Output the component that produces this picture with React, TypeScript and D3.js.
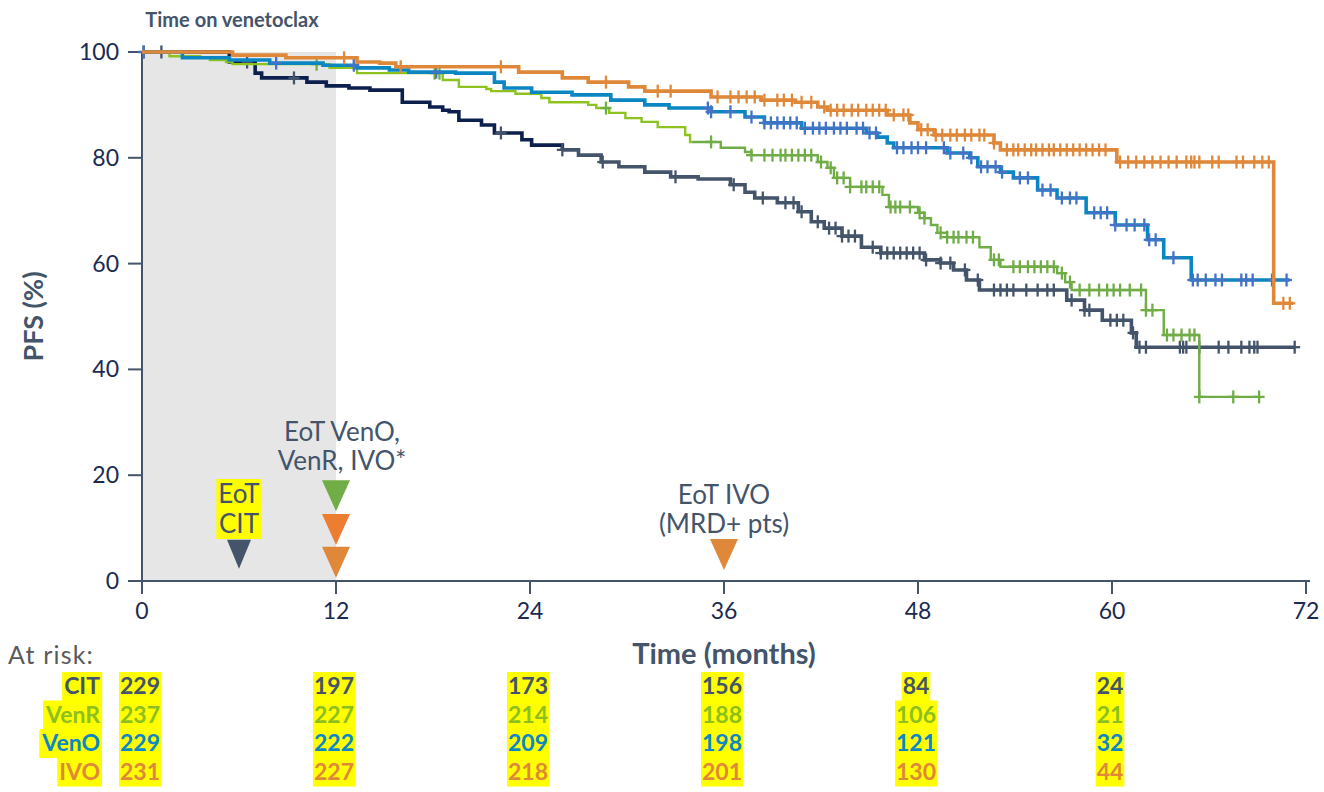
import { useEffect, useRef } from 'react';
import * as d3 from 'd3';

// Step points: [month, PFS %] — value after each event
const citSteps = [[0,100],[5.4,98.1],[7.0,96.0],[7.4,95.1],[10.2,94.3],[11.4,93.6],[12.8,93.2],[14.1,92.8],[16.1,90.5],[17.8,89.6],[18.6,89.0],[19.0,88.7],[19.6,87.1],[21.0,86.2],[21.8,84.7],[23.5,83.4],[24.1,82.4],[26.0,81.5],[27.0,80.5],[28.4,79.2],[29.5,78.3],[31.1,77.3],[32.7,76.4],[34.4,76.0],[36.4,74.9],[37.3,73.5],[37.9,72.4],[39.3,71.5],[40.6,69.8],[41.4,67.9],[42.2,66.7],[43.3,65.2],[44.5,63.1],[45.7,62.0],[48.4,60.7],[49.4,60.1],[50.2,58.8],[51.0,56.9],[51.8,55.0],[57.2,53.1],[58.3,51.2],[59.4,49.3],[61.2,46.9],[61.5,44.2]];
const venrSteps = [[0,100],[1.7,99.2],[3.6,98.9],[4.2,98.5],[5.2,98.1],[5.6,97.7],[11.6,97.0],[13.3,96.0],[18.6,94.7],[19.6,93.4],[21.3,93.0],[21.6,92.6],[23.1,92.1],[24.7,91.3],[25.2,90.5],[27.6,90.0],[28.1,89.4],[28.9,88.5],[29.9,87.5],[30.9,86.8],[31.9,85.8],[33.6,84.3],[33.9,83.0],[35.8,81.9],[37.3,81.1],[37.7,80.5],[41.8,79.2],[42.4,78.1],[42.8,76.2],[43.8,74.5],[45.8,73.0],[46.2,70.7],[48.0,69.6],[48.4,68.6],[48.8,67.3],[49.2,65.8],[49.8,65.0],[51.8,63.1],[52.5,60.7],[53.1,59.4],[56.6,58.2],[57.1,56.5],[57.5,55.0],[62.1,51.2],[63.2,46.5],[65.4,34.8]];
const venoSteps = [[0,100],[2.5,98.9],[5.4,98.5],[7.9,97.9],[11.2,97.5],[13.3,97.0],[15.3,96.6],[16.5,96.2],[19.4,96.0],[21.8,94.3],[22.4,93.2],[24.1,92.4],[26.6,91.9],[29.0,90.9],[31.1,90.0],[32.6,89.4],[35.2,88.7],[37.3,87.7],[38.5,86.6],[40.8,85.6],[44.8,84.7],[45.5,83.9],[46.1,82.8],[46.5,81.9],[49.8,80.9],[51.2,80.0],[51.7,78.3],[53.1,77.3],[53.9,76.2],[55.4,73.9],[56.6,72.4],[58.4,69.6],[60.2,67.3],[62.2,64.5],[63.2,61.1],[64.9,56.9]];
const ivoSteps = [[0,100],[5.6,99.4],[8.9,98.9],[13.3,98.1],[14.7,97.9],[15.7,97.2],[23.3,96.2],[26.0,95.1],[27.6,94.3],[30.1,93.4],[31.1,92.6],[35.2,91.5],[38.3,90.9],[40.4,90.5],[41.8,89.6],[42.4,89.0],[46.1,88.1],[47.5,86.6],[48.0,85.3],[49.0,84.3],[52.7,82.8],[53.1,81.5],[60.3,79.2],[70.0,52.5]];

// last follow-up per arm
const followUpEnd = { CIT: 71.3, VenR: 69.1, VenO: 71.0, IVO: 71.2 };

// censoring times (months)
const citCensor = [0.1,1.2,6.5,9.4,22.2,26.0,28.5,33.0,36.6,38.4,39.8,40.3,40.8,41.8,42.5,42.9,43.3,43.7,44.1,45.2,45.7,46.1,46.5,46.9,47.3,47.7,48.1,48.5,49.4,50.0,50.9,51.7,52.7,53.1,53.5,53.9,54.7,55.4,56.0,56.4,57.5,58.3,58.6,59.9,60.3,60.7,61.3,61.7,62.1,64.2,64.4,64.6,65.4,66.6,67.2,68.0,68.5,68.8,69.0,71.3];
const venrCensor = [10.8,18.1,18.4,28.7,35.2,37.7,38.5,39.0,39.5,39.8,40.2,40.6,41.0,41.4,42.0,42.6,43.0,43.4,43.8,44.5,44.8,45.2,45.6,46.3,46.6,46.9,47.5,48.1,48.4,49.4,49.8,50.2,50.5,51.0,51.4,52.7,53.0,53.9,54.3,54.8,55.2,55.6,56.0,56.4,56.9,57.4,58.0,58.6,59.2,59.7,60.1,60.5,61.1,61.8,62.1,62.5,63.4,63.8,64.3,64.8,65.1,65.4,67.5,69.1];
const venoCensor = [0.1,8.3,13.1,18.2,35.0,35.2,36.4,37.7,38.5,38.9,39.3,39.7,40.1,40.5,41.0,41.5,41.9,42.3,42.8,43.2,43.6,44.2,44.6,45.0,45.4,46.7,47.1,47.6,48.0,48.5,49.6,50.0,50.8,51.3,51.9,52.3,52.8,53.2,54.3,54.8,55.7,56.2,56.9,57.4,57.8,58.9,59.3,59.7,60.2,60.9,61.4,62.0,62.3,62.7,63.8,65.0,65.3,65.8,66.4,66.8,68.0,68.3,68.7,69.9,70.8];
const ivoCensor = [12.5,16.0,22.2,28.7,31.9,32.7,35.6,36.4,36.9,37.4,37.9,38.5,39.3,39.7,40.2,40.8,41.4,42.2,42.6,43.0,43.4,43.9,44.3,44.8,45.2,45.6,46.0,46.5,47.1,47.4,48.2,48.6,49.1,49.5,50.0,50.4,50.9,51.3,51.8,52.1,52.7,53.5,53.9,54.2,54.6,55.0,55.3,55.7,56.1,56.4,56.8,57.2,57.6,58.0,58.4,58.8,59.2,59.6,60.5,61.0,61.5,62.0,62.5,63.0,63.5,64.0,64.6,64.9,65.1,65.4,66.2,66.6,67.7,68.1,68.8,69.3,69.7,70.6,71.0];

const monthTicks = [0, 12, 24, 36, 48, 60, 72];
const pfsTicks = [0, 20, 40, 60, 80, 100];

const riskTimes = [0, 12, 24, 36, 48, 60];
const riskLabels = ['CIT', 'VenR', 'VenO', 'IVO'];
const citRisk = [229, 197, 173, 156, 84, 24];
const venrRisk = [237, 227, 214, 188, 106, 21];
const venoRisk = [229, 222, 209, 198, 121, 32];
const ivoRisk = [231, 227, 218, 201, 130, 44];

const App = () => {
  const svgRef = useRef(null);

  useEffect(() => {
    const width = 1324, height = 792;
    const svg = d3.select(svgRef.current);
    svg.selectAll('*').remove();
    svg.attr('width', width).attr('height', height);

    const font = 'Lato, "Open Sans", sans-serif';
    const axisColor = '#44546a';
    const x = d3.scaleLinear().domain([0, 72]).range([142, 1306]);
    const y = d3.scaleLinear().domain([0, 100]).range([581, 52]);

    // venetoclax treatment window
    svg.append('rect')
      .attr('x', x(0)).attr('y', y(100))
      .attr('width', x(12) - x(0)).attr('height', y(0) - y(100))
      .attr('fill', '#e6e6e6');

    svg.append('text')
      .attr('x', x(6) - 7).attr('y', 27)
      .attr('text-anchor', 'middle')
      .attr('font-family', font).attr('font-weight', 700).attr('font-size', 20)
      .attr('fill', axisColor)
      .text('Time on venetoclax');

    // axes
    const ax = svg.append('g').attr('stroke', axisColor).attr('stroke-width', 2);
    ax.append('line').attr('x1', x(0)).attr('x2', x(0)).attr('y1', y(100)).attr('y2', y(0) + 13);
    ax.append('line').attr('x1', x(0) - 14).attr('x2', x(72) + 4).attr('y1', y(0)).attr('y2', y(0));
    pfsTicks.forEach(t => {
      ax.append('line').attr('x1', x(0) - 14).attr('x2', x(0)).attr('y1', y(t)).attr('y2', y(t));
    });
    monthTicks.forEach(t => {
      ax.append('line').attr('x1', x(t)).attr('x2', x(t)).attr('y1', y(0)).attr('y2', y(0) + 13);
    });

    svg.append('g').selectAll('text').data(pfsTicks).enter().append('text')
      .attr('x', x(0) - 23).attr('y', d => y(d) + 8)
      .attr('text-anchor', 'end')
      .attr('font-family', font).attr('font-size', 23).attr('fill', '#1b2a52')
      .text(d => d);

    svg.append('g').selectAll('text').data(monthTicks).enter().append('text')
      .attr('x', d => x(d)).attr('y', y(0) + 38)
      .attr('text-anchor', 'middle')
      .attr('font-family', font).attr('font-size', 23).attr('fill', '#1b2a52')
      .text(d => d);

    svg.append('text')
      .attr('transform', `translate(43,${(y(0) + y(100)) / 2}) rotate(-90)`)
      .attr('text-anchor', 'middle')
      .attr('font-family', font).attr('font-weight', 700).attr('font-size', 27)
      .attr('fill', axisColor)
      .text('PFS (%)');

    svg.append('text')
      .attr('x', x(36)).attr('y', 664)
      .attr('text-anchor', 'middle')
      .attr('font-family', font).attr('font-weight', 700).attr('font-size', 29)
      .attr('fill', axisColor)
      .text('Time (months)');

    // KM curves
    const valueAt = (steps, t) => {
      let v = steps[0][1];
      for (const s of steps) { if (s[0] <= t) v = s[1]; }
      return v;
    };
    const line = d3.line().x(d => x(d[0])).y(d => y(d[1])).curve(d3.curveStepAfter);
    const segment = (steps, t0, t1) => {
      const pts = [[t0, valueAt(steps, t0)]];
      steps.forEach(s => { if (s[0] > t0 && s[0] < t1) pts.push(s); });
      pts.push([t1, valueAt(steps, t1)]);
      return pts;
    };

    const arms = [
      { name: 'CIT', steps: citSteps, censor: citCensor, split: 26, early: '#0c1f4d', late: '#44546a', mark: '#44546a', w: 3.6 },
      { name: 'VenR', steps: venrSteps, censor: venrCensor, split: 34, early: '#8dc21f', late: '#70ad47', mark: '#70ad47', w: 2.4 },
      { name: 'VenO', steps: venoSteps, censor: venoCensor, split: 72, early: '#0a87c3', late: '#0a87c3', mark: '#4472c4', w: 3.6 },
      { name: 'IVO', steps: ivoSteps, censor: ivoCensor, split: 72, early: '#e0883a', late: '#e0883a', mark: '#e0883a', w: 3.6 },
    ];

    arms.forEach(a => {
      const end = followUpEnd[a.name];
      const g = svg.append('g');
      const splitT = Math.min(a.split, end);
      g.append('path').attr('d', line(segment(a.steps, 0, splitT)))
        .attr('fill', 'none').attr('stroke', a.early).attr('stroke-width', a.w);
      if (splitT < end) {
        g.append('path').attr('d', line(segment(a.steps, splitT, end)))
          .attr('fill', 'none').attr('stroke', a.late).attr('stroke-width', a.w);
      }
      const m = g.append('g').attr('stroke', a.mark).attr('stroke-width', 2.3);
      a.censor.forEach(t => {
        const cx = x(t), cy = y(valueAt(a.steps, t));
        m.append('line').attr('x1', cx).attr('x2', cx).attr('y1', cy - 6.5).attr('y2', cy + 6.5);
        m.append('line').attr('x1', cx - 5.5).attr('x2', cx + 5.5).attr('y1', cy).attr('y2', cy);
      });
    });

    // end-of-treatment markers
    const markers = [
      { t: 6, tip: 2.3, color: '#44546a' },
      { t: 12, tip: 13.2, color: '#70ad47' },
      { t: 12, tip: 6.8, color: '#ed7d31' },
      { t: 12, tip: 0.6, color: '#e0883a' },
      { t: 36, tip: 2.1, color: '#e0883a' },
    ];
    markers.forEach(mk => {
      const cx = x(mk.t), ty = y(mk.tip);
      const w = mk.t === 6 ? 12 : 14, h = mk.t === 6 ? 29 : 31;
      svg.append('path')
        .attr('d', `M${cx - w},${ty - h}L${cx + w},${ty - h}L${cx},${ty}Z`)
        .attr('fill', mk.color);
    });

    const noteStyle = sel => sel.attr('font-family', font).attr('font-size', 26)
      .attr('fill', axisColor).attr('text-anchor', 'middle');

    // EoT CIT with highlight
    const citNote = svg.append('g');
    const citText = citNote.append('text').call(noteStyle);
    citText.append('tspan').attr('x', x(6)).attr('y', 503).text('EoT');
    citText.append('tspan').attr('x', x(6)).attr('y', 533).text('CIT');
    const cb = citText.node().getBBox();
    citNote.insert('rect', 'text')
      .attr('x', cb.x - 2).attr('y', cb.y + 2).attr('width', cb.width + 4).attr('height', cb.height - 2)
      .attr('fill', '#ffff00');

    const venNote = svg.append('text').call(noteStyle);
    venNote.append('tspan').attr('x', x(12) + 6).attr('y', 441).text('EoT VenO,');
    venNote.append('tspan').attr('x', x(12) + 6).attr('y', 470).text('VenR, IVO*');

    const ivoNote = svg.append('text').call(noteStyle);
    ivoNote.append('tspan').attr('x', x(36)).attr('y', 504).text('EoT IVO');
    ivoNote.append('tspan').attr('x', x(36)).attr('y', 533).text('(MRD+ pts)');

    // at-risk table
    svg.append('text')
      .attr('x', 8).attr('y', 664)
      .attr('font-family', font).attr('font-size', 25).attr('letter-spacing', 1.2).attr('fill', '#595959')
      .text('At risk:');

    const riskRows = [citRisk, venrRisk, venoRisk, ivoRisk];
    const riskColors = ['#44546a', '#8cbf1f', '#0a87c8', '#e0883a'];
    const rowTop = 672, rowH = 28.5;
    const table = svg.append('g');
    riskRows.forEach((row, i) => {
      const base = rowTop + i * rowH + 22;
      const lab = table.append('text')
        .attr('x', 100).attr('y', base).attr('text-anchor', 'end')
        .attr('font-family', font).attr('font-weight', 700).attr('font-size', 23)
        .attr('fill', riskColors[i]).text(riskLabels[i]);
      const lb = lab.node().getBBox();
      table.insert('rect', 'text')
        .attr('x', lb.x - 2).attr('y', rowTop + i * rowH).attr('width', lb.width + 4).attr('height', rowH + 0.5)
        .attr('fill', '#ffff00');
      row.forEach((n, j) => {
        const t = table.append('text')
          .attr('x', x(riskTimes[j]) - 2).attr('y', base).attr('text-anchor', 'middle')
          .attr('font-family', font).attr('font-weight', 700).attr('font-size', 23)
          .attr('fill', riskColors[i]).text(n);
        const nb = t.node().getBBox();
        table.insert('rect', 'text')
          .attr('x', nb.x - 1).attr('y', rowTop + i * rowH).attr('width', nb.width + 2).attr('height', rowH + 0.5)
          .attr('fill', '#ffff00');
      });
    });
  }, []);

  return (
    <svg ref={svgRef} style={{ position: 'absolute', left: 0, top: 0, display: 'block' }}></svg>
  );
};

export default App;
